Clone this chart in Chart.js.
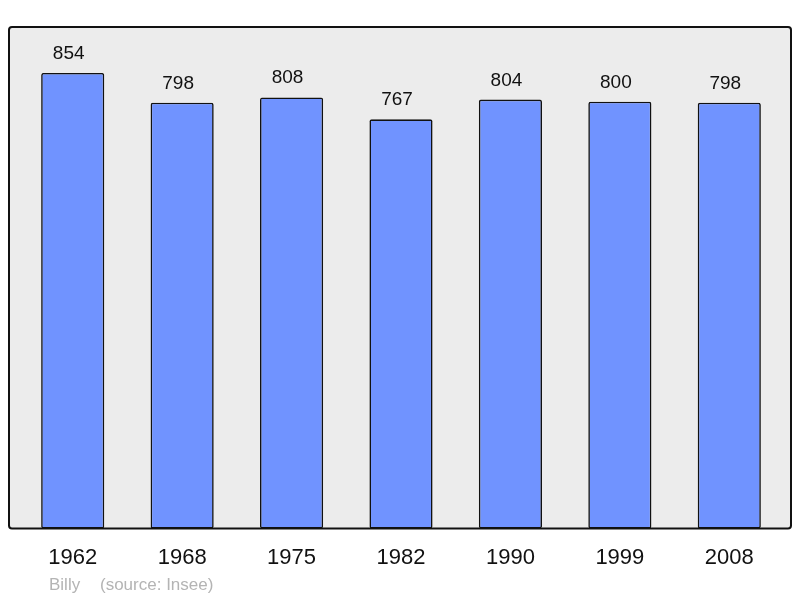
<!DOCTYPE html>
<html>
<head>
<meta charset="utf-8">
<script src="https://cdn.jsdelivr.net/npm/chart.js@4/dist/chart.umd.min.js"></script>
<style>
    html, body { margin: 0; padding: 0; background: #fff; }
    #wrap { width: 800px; height: 598px; }
</style>
</head>
<body>
<div id="wrap"><canvas id="popChart" width="800" height="598"></canvas></div>
<script>
let years = ["1962", "1968", "1975", "1982", "1990", "1999", "2008"];
let population = [854, 798, 808, 767, 804, 800, 798];
let yMax = 940;

let footerName = "Billy";
let footerSource = "(source: Insee)";

// fond gris + cadre arrondi
let framePlugin = {
    id: "frame",
    beforeDatasetsDraw(chart){
        let a = chart.chartArea;
        let ctx = chart.ctx;
        ctx.save();
        ctx.beginPath();
        ctx.roundRect(a.left - 9, a.top, a.right - a.left + 16, a.bottom - a.top, 3);
        ctx.fillStyle = "#ececec";
        ctx.fill();
        ctx.restore();
    },
    afterDatasetsDraw(chart){
        let a = chart.chartArea;
        let ctx = chart.ctx;
        ctx.save();
        ctx.beginPath();
        ctx.roundRect(a.left - 9, a.top, a.right - a.left + 16, a.bottom - a.top, 3);
        ctx.lineWidth = 2;
        ctx.strokeStyle = "#111";
        ctx.stroke();

        // valeurs au-dessus des barres
        let meta = chart.getDatasetMeta(0);
        ctx.fillStyle = "#111";
        ctx.font = "19px 'Liberation Sans', Arial, sans-serif";
        ctx.textAlign = "center";
        ctx.textBaseline = "alphabetic";
        meta.data.forEach((bar, i) => {
            ctx.fillText(String(population[i]), bar.x - 4, bar.y - 14);
        });

        // source
        ctx.fillStyle = "#b4b4b4";
        ctx.font = "17px 'Liberation Sans', Arial, sans-serif";
        ctx.textAlign = "left";
        ctx.fillText(footerName, 49, 590);
        ctx.fillText(footerSource, 100, 590);
        ctx.restore();
    }
};

let ctx = document.getElementById("popChart").getContext("2d");

let chart = new Chart(ctx, {
    type: "bar",
    data: {
        labels: years,
        datasets: [{
            data: population,
            backgroundColor: "#7093ff",
            borderColor: "#111",
            borderWidth: 1.6,
            borderRadius: 2,
            borderSkipped: false,
            categoryPercentage: 1,
            barPercentage: 0.577
        }]
    },
    options: {
        responsive: false,
        animation: false,
        layout: { padding: { left: 18, right: 16, top: 27, bottom: 11 } },
        plugins: {
            legend: { display: false },
            tooltip: { enabled: false }
        },
        scales: {
            y: { display: false, min: 0, max: yMax },
            x: {
                grid: { display: false, drawTicks: false },
                border: { display: false },
                ticks: {
                    color: "#111",
                    padding: 16,
                    font: { family: "'Liberation Sans', Arial, sans-serif", size: 22 }
                }
            }
        }
    },
    plugins: [framePlugin]
});
</script>
</body>
</html>
